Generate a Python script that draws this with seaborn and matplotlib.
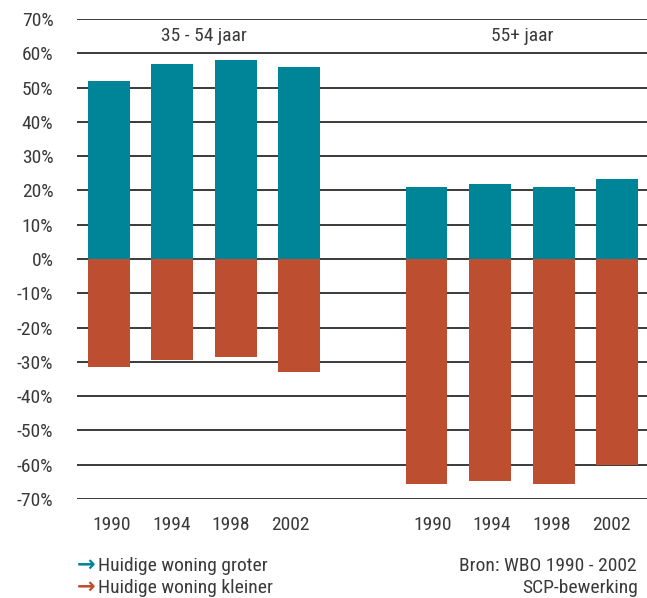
import numpy as np
import pandas as pd
import matplotlib
matplotlib.use("Agg")
import matplotlib.pyplot as plt
from matplotlib import font_manager
import seaborn as sns

# data
years = ["1990", "1994", "1998", "2002"]
groups = ["35 - 54 jaar", "55+ jaar"]
groter_35_54 = [52, 57, 58, 56]
kleiner_35_54 = [-31.5, -29.5, -28.5, -33]
groter_55 = [21, 22, 21, 23.3]
kleiner_55 = [-65.5, -64.8, -65.5, -60]
yticks = list(range(-70, 80, 10))

teal = "#008497"
rust = "#BE4E30"
gridc = "#2b2b2b"
textc = "#3a3a3a"

installed = {f.name for f in font_manager.fontManager.ttflist}
font = "Roboto"
fsize = 12.5
for name, size in [("Liberation Sans Narrow", 14.5), ("Roboto Condensed", 14), ("DejaVu Sans Condensed", 12)]:
    if name in installed:
        font, fsize = name, size
        break

sns.set_theme(style="white")
plt.rcParams["font.family"] = [font, "DejaVu Sans"]

pos = [0, 1, 2, 3, 5, 6, 7, 8]
df = pd.DataFrame({
    "pos": pos,
    "groter": groter_35_54 + groter_55,
    "kleiner": kleiner_35_54 + kleiner_55,
})

fig = plt.figure(figsize=(6.47, 5.98), dpi=100)
ax = fig.add_axes([77 / 647, 1 - 499 / 598, 1 - 77 / 647, (499 - 19) / 598])

for y in yticks:
    ax.axhline(y, color=gridc, lw=1.3, zorder=0)

sns.barplot(data=df, x="pos", y="groter", native_scale=True, width=0.66,
            color=teal, saturation=1, linewidth=0, ax=ax, zorder=2)
sns.barplot(data=df, x="pos", y="kleiner", native_scale=True, width=0.66,
            color=rust, saturation=1, linewidth=0, ax=ax, zorder=2)

ax.set_xlim(-0.5, 8.47)
ax.set_ylim(-70, 70)
ax.set_yticks(yticks)
ax.set_yticklabels([f"{v}%" for v in yticks])

# year labels sit a little tighter than the bars in the original
centers = [1.45, 6.5]
label_pos = [c + (i - 1.5) * 0.935 for c in centers for i in range(4)]
ax.set_xticks(label_pos)
ax.set_xticklabels(years + years)
ax.tick_params(axis="y", length=0, pad=17, labelsize=fsize, colors=textc)
ax.tick_params(axis="x", length=0, pad=12, labelsize=fsize, colors=textc)
ax.set_xlabel("")
ax.set_ylabel("")
for s in ax.spines.values():
    s.set_visible(False)

ax.text(1.5, 65, groups[0], ha="center", va="center", fontsize=fsize, color=textc)
ax.text(6.5, 65, groups[1], ha="center", va="center", fontsize=fsize, color=textc)

# legend with coloured arrows
fig.text(77 / 647, 1 - 565 / 598, "\u2192", color=teal, fontsize=16,
         fontweight="bold", family="DejaVu Sans", ha="left", va="center")
fig.text(77 / 647, 1 - 587 / 598, "\u2192", color=rust, fontsize=16,
         fontweight="bold", family="DejaVu Sans", ha="left", va="center")
fig.text(98 / 647, 1 - 566 / 598, "Huidige woning groter", fontsize=fsize,
         color=textc, ha="left", va="center")
fig.text(98 / 647, 1 - 588 / 598, "Huidige woning kleiner", fontsize=fsize,
         color=textc, ha="left", va="center")
fig.text(459 / 647, 1 - 566 / 598, "Bron: WBO 1990 - 2002", fontsize=fsize,
         color=textc, ha="left", va="center")
fig.text(522 / 647, 1 - 588 / 598, "SCP-bewerking", fontsize=fsize,
         color=textc, ha="left", va="center")

fig.savefig("out.png", dpi=100)
